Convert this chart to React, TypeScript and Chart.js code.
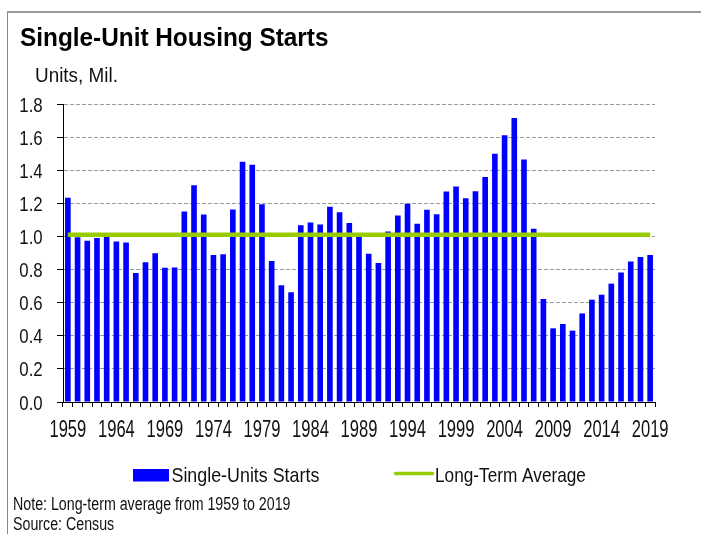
import React, { useEffect, useRef } from "react";
import { Chart, registerables } from "chart.js";

Chart.register(...registerables);

const years = [
  "1959", "1960", "1961", "1962", "1963", "1964", "1965", "1966", "1967", "1968",
  "1969", "1970", "1971", "1972", "1973", "1974", "1975", "1976", "1977", "1978",
  "1979", "1980", "1981", "1982", "1983", "1984", "1985", "1986", "1987", "1988",
  "1989", "1990", "1991", "1992", "1993", "1994", "1995", "1996", "1997", "1998",
  "1999", "2000", "2001", "2002", "2003", "2004", "2005", "2006", "2007", "2008",
  "2009", "2010", "2011", "2012", "2013", "2014", "2015", "2016", "2017", "2018",
  "2019",
];

const singleUnitStarts = [
  1.234, 0.995, 0.974, 0.991, 1.012, 0.970, 0.964, 0.779, 0.844, 0.899,
  0.811, 0.813, 1.151, 1.309, 1.132, 0.888, 0.892, 1.162, 1.451, 1.433,
  1.194, 0.852, 0.705, 0.663, 1.068, 1.084, 1.072, 1.179, 1.146, 1.081,
  1.003, 0.895, 0.840, 1.030, 1.126, 1.198, 1.076, 1.161, 1.134, 1.271,
  1.302, 1.231, 1.273, 1.359, 1.499, 1.611, 1.716, 1.465, 1.046, 0.622,
  0.445, 0.471, 0.431, 0.535, 0.618, 0.648, 0.715, 0.782, 0.849, 0.876,
  0.888,
];

const longTermAverage = 1.01;

const xTickLabels = ["1959", "1964", "1969", "1974", "1979", "1984", "1989", "1994", "1999", "2004", "2009", "2014", "2019"];

const title = "Single-Unit Housing Starts";
const unitsLabel = "Units, Mil.";
const seriesLabels = ["Single-Units Starts", "Long-Term Average"];
const notes = ["Note: Long-term average from 1959 to 2019", "Source: Census"];

const FONT = "'Liberation Sans', Arial, sans-serif";
const BAR_COLOR = "#0000FF";
const LINE_COLOR = "#99CC00";
const TEXT_COLOR = "#111";

function drawCondensed(ctx: any, text: string, x: number, y: number, size: number, sx: number, align: string) {
  ctx.save();
  ctx.font = `${size}px ${FONT}`;
  ctx.fillStyle = TEXT_COLOR;
  ctx.textBaseline = "alphabetic";
  ctx.textAlign = align;
  ctx.translate(x, y);
  ctx.scale(sx, 1);
  ctx.fillText(text, 0, 0);
  ctx.restore();
}

const labelsPlugin = {
  id: "condensedLabels",
  afterDraw(chart: any) {
    const ctx = chart.ctx;
    const xs = chart.scales.x;
    const ys = chart.scales.y;
    // x tick labels
    xs.ticks.forEach((_t: any, i: number) => {
      const lbl = years[i];
      if (!xTickLabels.includes(lbl)) return;
      drawCondensed(ctx, lbl, xs.getPixelForTick(i), xs.top + 34.5, 23, 0.72, "center");
    });
    // y tick labels
    ys.ticks.forEach((t: any) => {
      const px = ys.getPixelForValue(t.value);
      drawCondensed(ctx, Number(t.value).toFixed(1), ys.right - 20.3, px + 7.5, 21, 0.8, "right");
    });
    // legend
    const ds = chart.data.datasets;
    ctx.save();
    ctx.fillStyle = ds[0].backgroundColor;
    ctx.fillRect(133, 469, 36, 12.5);
    ctx.strokeStyle = ds[1].borderColor;
    ctx.lineWidth = 3.5;
    ctx.lineCap = "round";
    ctx.beginPath();
    ctx.moveTo(395.5, 473.5);
    ctx.lineTo(432.5, 473.5);
    ctx.stroke();
    ctx.restore();
    drawCondensed(ctx, ds[0].label, 171.5, 481.5, 21, 0.85, "left");
    drawCondensed(ctx, ds[1].label, 435, 481.5, 21, 0.82, "left");
  },
};

export default function App() {
  const canvasRef = useRef<HTMLCanvasElement | null>(null);

  useEffect(() => {
    const canvas = canvasRef.current;
    if (!canvas) return;
    const chart = new Chart(canvas, {
      type: "bar",
      data: {
        labels: years,
        datasets: [
          {
            type: "bar",
            label: seriesLabels[0],
            data: singleUnitStarts,
            backgroundColor: BAR_COLOR,
            borderWidth: 0,
            barPercentage: 0.58,
            categoryPercentage: 1.0,
            order: 1,
          },
          {
            type: "line",
            label: seriesLabels[1],
            data: years.map(() => longTermAverage),
            borderColor: LINE_COLOR,
            backgroundColor: LINE_COLOR,
            borderWidth: 4.5,
            pointRadius: 0,
            fill: false,
            tension: 0,
            order: 0,
          },
        ] as any,
      },
      options: {
        responsive: false,
        animation: false,
        events: [],
        layout: { padding: { left: 0, right: 46, top: 104, bottom: 92 } },
        plugins: {
          legend: { display: false },
          tooltip: { enabled: false },
          title: { display: false },
        },
        scales: {
          x: {
            type: "category",
            offset: true,
            afterFit: (scale: any) => {
              scale.height = 40;
            },
            grid: {
              display: true,
              offset: true,
              drawOnChartArea: false,
              drawTicks: true,
              tickLength: 5,
              tickColor: "#000",
              tickWidth: 1,
            },
            border: { display: true, color: "#000", width: 1 },
            ticks: {
              display: false,
              autoSkip: false,
              maxRotation: 0,
              minRotation: 0,
              callback: function (this: any, _v: any, index: number) {
                const lbl = years[index];
                return xTickLabels.includes(lbl) ? lbl : "";
              },
            },
          },
          y: {
            min: 0,
            max: 1.8,
            afterFit: (scale: any) => {
              scale.width = 63;
            },
            grid: {
              display: true,
              drawOnChartArea: true,
              drawTicks: true,
              tickLength: 6,
              tickColor: "#000",
              tickWidth: 1,
              lineWidth: 1,
              color: (c: any) => (c.tick && c.tick.value === 0 ? "rgba(0,0,0,0)" : "#9a9a9a"),
            },
            border: { display: true, color: "#000", width: 1, dash: [4, 2] },
            ticks: {
              display: false,
              stepSize: 0.2,
              callback: (v: any) => Number(v).toFixed(1),
            },
          },
        },
      } as any,
      plugins: [labelsPlugin],
    });
    return () => chart.destroy();
  }, []);

  const condensed = (sx: number) => ({
    transform: `scaleX(${sx})`,
    transformOrigin: "0 0",
  });

  return (
    <div
      style={{
        position: "fixed",
        left: 0,
        top: 0,
        width: 701,
        height: 534,
        overflow: "hidden",
        background: "#fff",
      }}
    >
      <div
        style={{
          position: "absolute",
          left: 7,
          top: 11,
          width: 760,
          height: 600,
          borderTop: "2px solid #999",
          borderLeft: "1px solid #888",
          boxSizing: "border-box",
        }}
      />
      <canvas
        ref={canvasRef}
        width={701}
        height={534}
        style={{ position: "absolute", left: 0, top: 0, width: 701, height: 534 }}
      />
      <div
        style={{
          position: "absolute",
          left: 20,
          top: 24.5,
          fontFamily: FONT,
          fontWeight: "bold",
          fontSize: 25.5,
          lineHeight: "25.5px",
          whiteSpace: "nowrap",
          color: "#000",
          ...condensed(0.955),
        }}
      >
        {title}
      </div>
      <div
        style={{
          position: "absolute",
          left: 34.5,
          top: 64,
          fontFamily: FONT,
          fontSize: 21,
          lineHeight: "21px",
          whiteSpace: "nowrap",
          color: TEXT_COLOR,
          ...condensed(0.9),
        }}
      >
        {unitsLabel}
      </div>
      <div
        style={{
          position: "absolute",
          left: 12.7,
          top: 494,
          fontFamily: FONT,
          fontSize: 18,
          lineHeight: "20px",
          whiteSpace: "nowrap",
          color: TEXT_COLOR,
          ...condensed(0.79),
        }}
      >
        <div>{notes[0]}</div>
        <div>{notes[1]}</div>
      </div>
    </div>
  );
}
